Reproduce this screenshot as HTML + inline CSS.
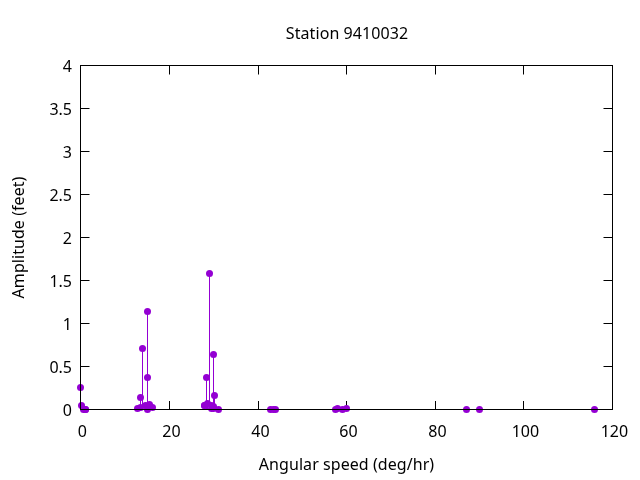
<!DOCTYPE html>
<html><head><meta charset="utf-8"><title>Station 9410032</title>
<style>
html,body{margin:0;padding:0;background:#fff;}
body{width:640px;height:480px;overflow:hidden;}
svg{display:block;will-change:transform;}
text{font-family:"Noto Sans","Liberation Sans",sans-serif;font-size:16px;fill:#000;}
</style></head><body>
<svg width="640" height="480" viewBox="0 0 640 480">
<rect width="640" height="480" fill="#fff"/>
<g stroke="#000" stroke-width="1" fill="none">
<path d="M169.5 409.5V401M169.5 65.5V74.5"/>
<path d="M258.5 409.5V401M258.5 65.5V74.5"/>
<path d="M346.5 409.5V401M346.5 65.5V74.5"/>
<path d="M435.5 409.5V401M435.5 65.5V74.5"/>
<path d="M523.5 409.5V401M523.5 65.5V74.5"/>
<path d="M80.5 366.5H89.5M612.5 366.5H603.5"/>
<path d="M80.5 323.5H89.5M612.5 323.5H603.5"/>
<path d="M80.5 280.5H89.5M612.5 280.5H603.5"/>
<path d="M80.5 237.5H89.5M612.5 237.5H603.5"/>
<path d="M80.5 194.5H89.5M612.5 194.5H603.5"/>
<path d="M80.5 151.5H89.5M612.5 151.5H603.5"/>
<path d="M80.5 108.5H89.5M612.5 108.5H603.5"/>
</g>
<g stroke="#9400d3" stroke-width="1" fill="none">
<line x1="80.5" y1="409.5" x2="80.5" y2="387.5"/>
<line x1="81.5" y1="409.5" x2="81.5" y2="405.5"/>
<line x1="137.5" y1="409.5" x2="137.5" y2="408.5"/>
<line x1="140.5" y1="409.5" x2="140.5" y2="397.5"/>
<line x1="140.5" y1="409.5" x2="140.5" y2="407.5"/>
<line x1="142.5" y1="409.5" x2="142.5" y2="348.5"/>
<line x1="145.5" y1="409.5" x2="145.5" y2="405.5"/>
<line x1="147.5" y1="409.5" x2="147.5" y2="377.5"/>
<line x1="147.5" y1="409.5" x2="147.5" y2="311.5"/>
<line x1="149.5" y1="409.5" x2="149.5" y2="404.5"/>
<line x1="152.5" y1="409.5" x2="152.5" y2="407.5"/>
<line x1="204.5" y1="409.5" x2="204.5" y2="405.5"/>
<line x1="204.5" y1="409.5" x2="204.5" y2="405.5"/>
<line x1="206.5" y1="409.5" x2="206.5" y2="377.5"/>
<line x1="207.5" y1="409.5" x2="207.5" y2="403.5"/>
<line x1="209.5" y1="409.5" x2="209.5" y2="273.5"/>
<line x1="211.5" y1="409.5" x2="211.5" y2="408.5"/>
<line x1="211.5" y1="409.5" x2="211.5" y2="405.5"/>
<line x1="213.5" y1="409.5" x2="213.5" y2="406.5"/>
<line x1="213.5" y1="409.5" x2="213.5" y2="354.5"/>
<line x1="213.5" y1="409.5" x2="213.5" y2="408.5"/>
<line x1="214.5" y1="409.5" x2="214.5" y2="395.5"/>
<line x1="337.5" y1="409.5" x2="337.5" y2="408.5"/>
<line x1="346.5" y1="409.5" x2="346.5" y2="408.5"/>
</g>
<g fill="#9400d3" stroke="none">
<circle cx="80.5" cy="387.5" r="3.5"/>
<circle cx="81.5" cy="405.5" r="3.5"/>
<circle cx="83.5" cy="409.5" r="3.5"/>
<circle cx="85.5" cy="409.5" r="3.5"/>
<circle cx="85.5" cy="409.5" r="3.5"/>
<circle cx="137.5" cy="408.5" r="3.5"/>
<circle cx="140.5" cy="397.5" r="3.5"/>
<circle cx="140.5" cy="407.5" r="3.5"/>
<circle cx="142.5" cy="348.5" r="3.5"/>
<circle cx="145.5" cy="405.5" r="3.5"/>
<circle cx="147.5" cy="377.5" r="3.5"/>
<circle cx="147.5" cy="409.5" r="3.5"/>
<circle cx="147.5" cy="311.5" r="3.5"/>
<circle cx="149.5" cy="404.5" r="3.5"/>
<circle cx="152.5" cy="407.5" r="3.5"/>
<circle cx="204.5" cy="405.5" r="3.5"/>
<circle cx="204.5" cy="405.5" r="3.5"/>
<circle cx="206.5" cy="377.5" r="3.5"/>
<circle cx="207.5" cy="403.5" r="3.5"/>
<circle cx="209.5" cy="273.5" r="3.5"/>
<circle cx="211.5" cy="408.5" r="3.5"/>
<circle cx="211.5" cy="405.5" r="3.5"/>
<circle cx="213.5" cy="406.5" r="3.5"/>
<circle cx="213.5" cy="354.5" r="3.5"/>
<circle cx="213.5" cy="408.5" r="3.5"/>
<circle cx="214.5" cy="395.5" r="3.5"/>
<circle cx="218.5" cy="409.5" r="3.5"/>
<circle cx="270.5" cy="409.5" r="3.5"/>
<circle cx="273.5" cy="409.5" r="3.5"/>
<circle cx="275.5" cy="409.5" r="3.5"/>
<circle cx="335.5" cy="409.5" r="3.5"/>
<circle cx="337.5" cy="408.5" r="3.5"/>
<circle cx="342.5" cy="409.5" r="3.5"/>
<circle cx="346.5" cy="408.5" r="3.5"/>
<circle cx="466.5" cy="409.5" r="3.5"/>
<circle cx="479.5" cy="409.5" r="3.5"/>
<circle cx="594.5" cy="409.5" r="3.5"/>
</g>
<g stroke="#000" stroke-width="1" fill="none">
<rect x="80.5" y="65.5" width="532" height="344"/>
</g>
<g>
<text x="72" y="415.8" text-anchor="end">0</text>
<text x="72" y="372.8" text-anchor="end">0.5</text>
<text x="72" y="329.8" text-anchor="end">1</text>
<text x="72" y="286.8" text-anchor="end">1.5</text>
<text x="72" y="243.8" text-anchor="end">2</text>
<text x="72" y="200.8" text-anchor="end">2.5</text>
<text x="72" y="157.8" text-anchor="end">3</text>
<text x="72" y="114.8" text-anchor="end">3.5</text>
<text x="72" y="71.8" text-anchor="end">4</text>
<text x="82.4" y="437.1" text-anchor="middle">0</text>
<text x="171.4" y="437.1" text-anchor="middle">20</text>
<text x="260.4" y="437.1" text-anchor="middle">40</text>
<text x="348.4" y="437.1" text-anchor="middle">60</text>
<text x="437.4" y="437.1" text-anchor="middle">80</text>
<text x="525.4" y="437.1" text-anchor="middle">100</text>
<text x="614.4" y="437.1" text-anchor="middle">120</text>
<text x="347" y="39.3" text-anchor="middle" letter-spacing="0.07">Station 9410032</text>
<text x="346.5" y="470" text-anchor="middle" letter-spacing="0.06">Angular speed (deg/hr)</text>
<text transform="translate(23.8,237.5) rotate(-90)" x="0" y="0" text-anchor="middle" letter-spacing="0.06">Amplitude (feet)</text>
</g>
</svg>
</body></html>
